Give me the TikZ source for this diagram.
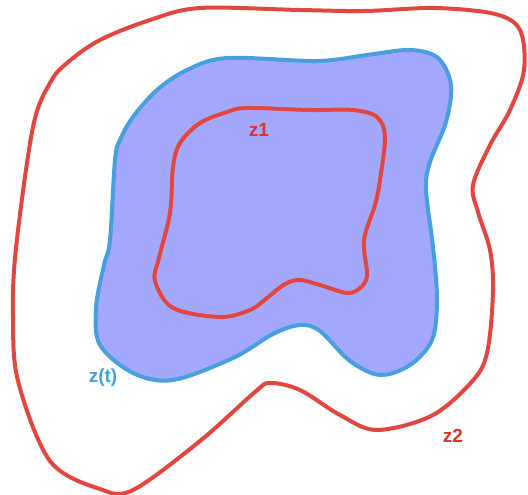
\documentclass[tikz,border=0pt]{standalone}
\usepackage{fontspec}
\setmainfont{Liberation Sans}
\definecolor{cred}{HTML}{E2473F}
\definecolor{cblue}{HTML}{479FE0}
\definecolor{cfill}{HTML}{A3A8FC}
\definecolor{lred}{HTML}{D9352B}
\begin{document}
\begin{tikzpicture}[x=1pt,y=-1pt,
  curve/.style={line width=4pt, line join=round},
  lbl/.style={font=\bfseries\fontsize{19}{22}\selectfont, inner sep=0pt}]
\useasboundingbox (0,0) rectangle (528,495);
% outer z2
\draw[curve, cred] plot[smooth cycle, tension=0.55] coordinates {
 (200,8) (300,10) (365,11) (435,8) (495,14) (520,30) (524,70)
 (510,110) (490,145) (473,185) (478,212) (490,250) (493,290) (488,348)
 (475,378) (433,415) (377,430) (340,415) (300,390) (270,383) (255,392)
 (200,441) (133,490) (100,489) (50,461) (18,381) (13,315) (16,248)
 (33,127) (50,83) (67,63) (100,40) (150,20)};
% blue z(t)
\draw[curve, cblue, fill=cfill] plot[smooth cycle, tension=0.55] coordinates {
 (227,58) (317,61) (367,55) (410,50) (438,58) (451,85) (446,122)
 (430,162) (426,190) (433,247) (437,300) (432,340) (410,365) (380,375)
 (350,361) (320,331) (300,325) (273,334) (233,358) (173,380) (133,373)
 (100,345) (96,308) (104,265) (110,240) (115,160) (120,140) (133,117)
 (157,90) (187,70)};
% inner z1
\draw[curve, cred] plot[smooth cycle, tension=0.55] coordinates {
 (247,108) (310,110) (353,110) (377,117) (385,137) (380,180)
 (375,205) (364,240) (367,275) (360,288) (347,293) (320,285)
 (300,280) (285,284) (267,298) (250,310) (220,317) (173,308)
 (155,281) (159,258) (170,213) (173,167) (180,143) (200,123) (227,112)};
\node[lbl, text=lred] (z1) at (259,130) {z1};
\node[lbl, text=cblue] (zt) at (103,378) {z(t)};
\node[lbl, text=lred] (z2) at (453,436) {z2};
\end{tikzpicture}
\end{document}
